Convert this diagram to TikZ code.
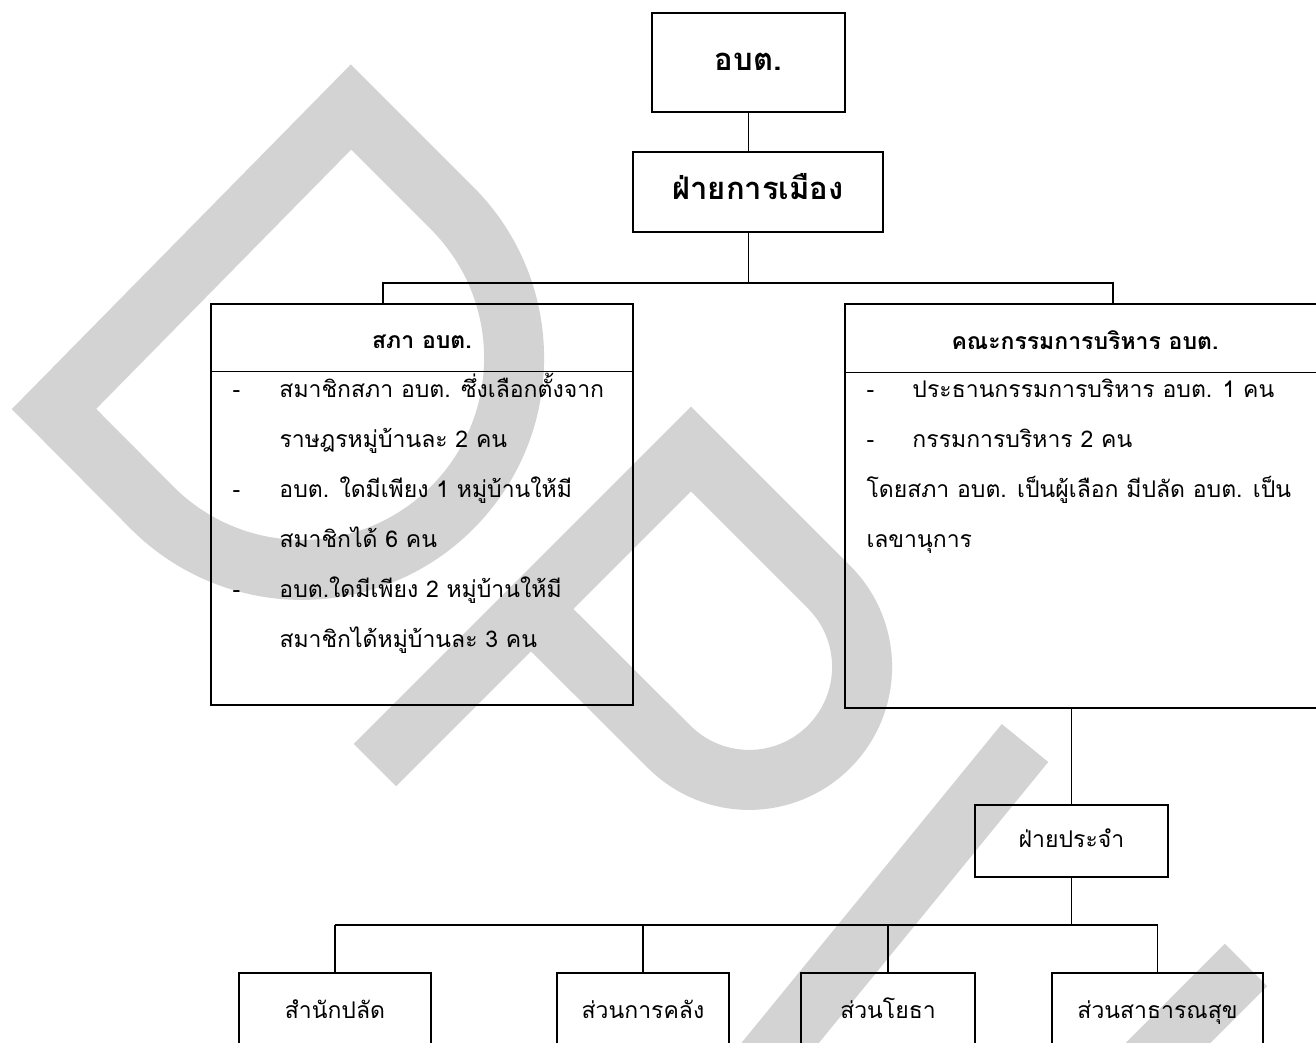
\documentclass[tikz,border=0pt]{standalone}
\usepackage{fontspec}
\newfontfamily\thaifont[Script=Thai]{Loma}
\usetikzlibrary{positioning}
\definecolor{wmgray}{RGB}{211,211,211}
\tikzset{
  tbox/.style={draw, line width=1.4pt, inner sep=0pt},
  topfont/.style={font=\thaifont\bfseries\fontsize{31}{36}\selectfont, text height=24pt, text depth=8pt},
  headfont/.style={font=\thaifont\bfseries\fontsize{23}{28}\selectfont, text height=18pt, text depth=6pt},
  bodytext/.style={inner sep=0pt, anchor=north west, font=\thaifont\fontsize{23}{50}\selectfont},
  unitfont/.style={font=\thaifont\fontsize{23}{28}\selectfont, text height=18pt, text depth=6pt},
  link/.style={line width=1.4pt}
}

\begin{document}
\begin{tikzpicture}[x=1pt,y=-1pt]
\useasboundingbox (0,0) rectangle (1316,1043);
\clip (0,0) rectangle (1316,1043);

%watermark
\begin{scope}[draw=wmgray, line width=60pt, line join=miter]
\draw (351,107) -- (452,208) arc[start angle=-45, end angle=135, radius=212] -- (54,409) -- cycle;
\draw (375,765) -- (691,449) -- (829,587) arc[start angle=-45, end angle=135, radius=113] -- (532,610);
\draw (1025,743) -- (745,1086);
\draw (1246,965) -- (1120,1091);
\end{scope}

%political side
\node[tbox, topfont, minimum width=193pt, minimum height=99pt] (obt) at (748.5,62.5) {อบต.};
\node[tbox, topfont, minimum width=250pt, minimum height=80pt] (politic) at (758,192) {ฝ่ายการเมือง};

\node[tbox, minimum width=422pt, minimum height=401pt] (council) at (422,504.5) {};
\draw[link] ([yshift=-68pt]council.north west) -- ([yshift=-68pt]council.north east);
\node[headfont] (councilhead) at ([yshift=-39pt]council.north) {สภา อบต.};
\node[bodytext] (councilbody) at ([xshift=22pt,yshift=-59pt]council.north west) {%
\begin{tabular}{@{}p{47pt}@{}l@{}}
- & สมาชิกสภา อบต. ซึ่งเลือกตั้งจาก\\
  & ราษฎรหมู่บ้านละ 2 คน\\
- & อบต. ใดมีเพียง 1 หมู่บ้านให้มี\\
  & สมาชิกได้ 6 คน\\
- & อบต.ใดมีเพียง 2 หมู่บ้านให้มี\\
  & สมาชิกได้หมู่บ้านละ 3 คน
\end{tabular}};

\node[tbox, minimum width=480pt, minimum height=404pt] (exec) at (1085,506) {};
\draw[link] ([yshift=-69pt]exec.north west) -- ([yshift=-69pt]exec.north east);
\node[headfont] (exechead) at ([yshift=-40pt]exec.north) {คณะกรรมการบริหาร อบต.};
\node[bodytext] (execbody) at ([xshift=22pt,yshift=-59pt]exec.north west) {%
\begin{tabular}{@{}p{46pt}@{}l@{}}
- & ประธานกรรมการบริหาร อบต. 1 คน\\
- & กรรมการบริหาร 2 คน\\
\multicolumn{2}{@{}l@{}}{โดยสภา อบต. เป็นผู้เลือก มีปลัด อบต. เป็น}\\
\multicolumn{2}{@{}l@{}}{เลขานุการ}
\end{tabular}};

%staff side
\node[tbox, unitfont, minimum width=193pt, minimum height=72pt] (staff) at (1071.5,841) {ฝ่ายประจำ};
\node[tbox, unitfont, minimum width=192pt, minimum height=78pt] (office1) at (335,1012) {สำนักปลัด};
\node[tbox, unitfont, minimum width=172pt, minimum height=78pt] (office2) at (643,1012) {ส่วนการคลัง};
\node[tbox, unitfont, minimum width=174pt, minimum height=78pt] (office3) at (888,1012) {ส่วนโยธา};
\node[tbox, unitfont, minimum width=211pt, minimum height=78pt] (office4) at (1157.5,1012) {ส่วนสาธารณสุข};

%connectors
\coordinate (cdrop) at (383,283);
\coordinate (edrop) at (1113,283);
\coordinate (bus) at (0,925);
\draw[link] (obt.south) -- (obt.south |- politic.north);
\draw[link] (obt.south |- politic.south) -- (obt.south |- cdrop);
\draw[link] (cdrop |- council.north) -- (cdrop) -- (edrop) -- (edrop |- exec.north);
\draw[link] (staff.north |- exec.south) -- (staff.north);
\draw[link] (staff.south) -- (staff.south |- bus);
\draw[link] (office1.north |- bus) -- (office4.north |- bus);
\foreach \o in {office1,office2,office3,office4}
  \draw[link] (\o.north) -- (\o.north |- bus);

\end{tikzpicture}
\end{document}
